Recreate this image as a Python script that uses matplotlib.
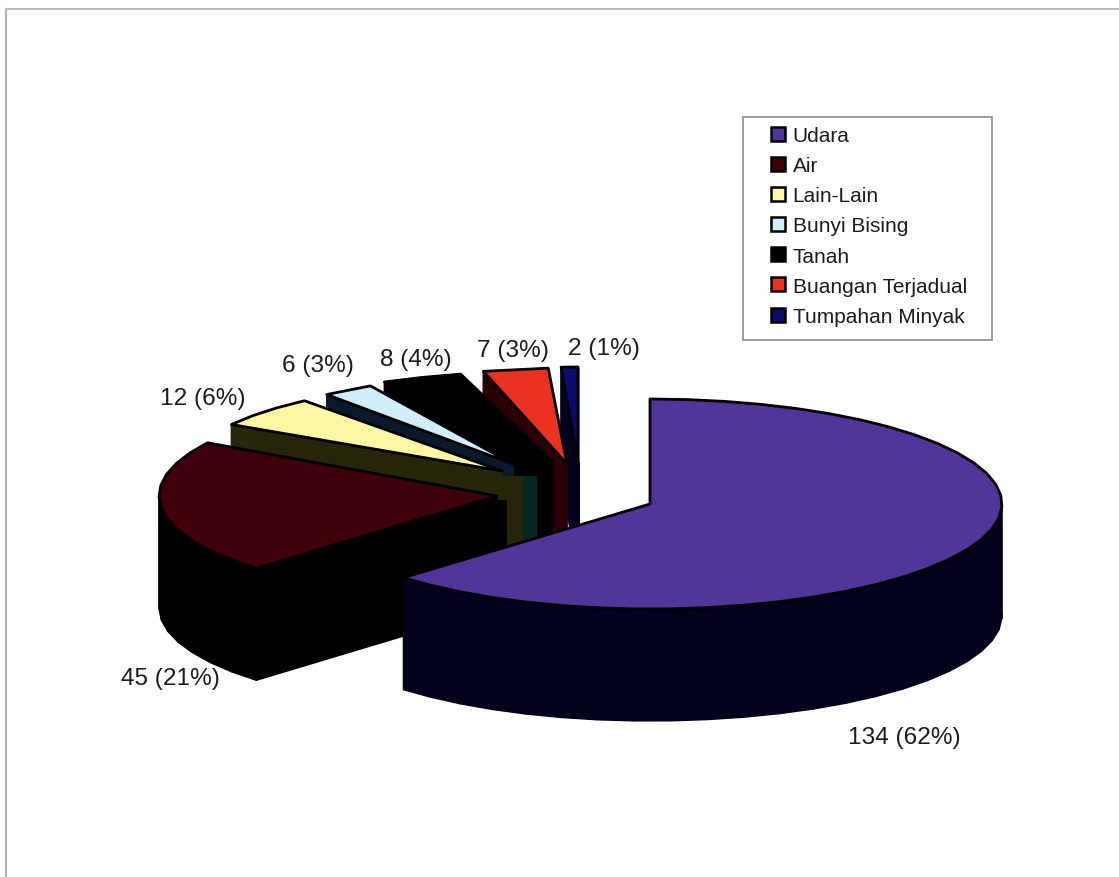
import numpy as np
import matplotlib
matplotlib.use('Agg')
import matplotlib.pyplot as plt
from matplotlib.patches import Polygon, Rectangle

plt.rcParams['font.family'] = ['Liberation Sans', 'DejaVu Sans']

# data
categories = ['Udara', 'Air', 'Lain-Lain', 'Bunyi Bising', 'Tanah',
              'Buangan Terjadual', 'Tumpahan Minyak']
values = [134, 45, 12, 6, 8, 7, 2]
percents = [62, 21, 6, 3, 4, 3, 1]

# styles
top_colors = ['#52359b', '#3f0009', '#fdf6a2', '#cfeefa', '#000000',
              '#ea3122', '#0b0b6e']
side_colors = ['#03021c', '#000000', '#26260a', '#0a1a2c', '#000000',
               '#2a0006', '#00001c']
hub_colors = ['#03021c', '#000000', '#26260a', '#06281f', '#000000',
              '#2a0006', '#00001c']

# layout of the exploded slices, in pixels of the picture
tip_x = [650, 497, 502, 513, 552, 567, 578]
tip_y = [505, 497, 472, 465, 462, 465, 463]
arc_shift = [3, 0, 0, 0, 0, 0, 0]
radius_x = [349, 338, 316, 298, 350, 320, 288]
radius_y = [105, 103, 90, 89, 90, 96, 95]
hub_width = [0, 10, 21, 24, 0, 0, 2]
hub_drop = [0, 4, 5, 12, 0, 0, 0]
depth = 112
label_x = [904, 170, 203, 318, 416, 513, 604]
label_y = [738, 679, 399, 366, 360, 351, 349]
label_size = 17.6


def slice_outline(i, start, end):
    '''Top face of a slice, as faceted arc plus tip'''
    n = max(2, int((end - start) / 6) + 1)
    a = np.radians(np.linspace(start, end, n))
    x = tip_x[i] + radius_x[i] * np.sin(a) + arc_shift[i] * np.abs(np.sin(a))
    y = tip_y[i] - radius_y[i] * np.cos(a)
    return np.column_stack([np.r_[tip_x[i], x], np.r_[tip_y[i], y]])


def draw_slice(ax, i, start, end):
    top = slice_outline(i, start, end)
    low = top + [0, depth]
    # walls first, the top face hides what is behind it
    for k in range(len(top)):
        k2 = (k + 1) % len(top)
        ax.add_patch(Polygon([top[k], top[k2], low[k2], low[k]],
                             fc=side_colors[i], ec=side_colors[i], lw=1))
    if hub_width[i] > 0:
        ax.add_patch(Rectangle((tip_x[i], tip_y[i] + hub_drop[i]),
                               hub_width[i], depth,
                               fc=hub_colors[i], ec='none'))
    ax.add_patch(Polygon(top, fc=top_colors[i], ec='black', lw=2,
                         joinstyle='round'))


fig = plt.figure(figsize=(11.19, 8.78), dpi=100)
ax = fig.add_axes([0, 0, 1, 1])
ax.set_xlim(0, 1119)
ax.set_ylim(878, 0)
ax.axis('off')

# page border of the scan
ax.plot([5.5, 5.5], [878, 10], color='#b4b4b4', lw=1.6)
ax.plot([5.5, 1119], [10, 10], color='#bcbcbc', lw=1.4)

edges = np.r_[0, np.cumsum(values)] / sum(values) * 360
for i in range(len(values) - 1, -1, -1):
    draw_slice(ax, i, edges[i], edges[i + 1])

for v, p, x, y in zip(values, percents, label_x, label_y):
    ax.text(x, y, f'{v} ({p}%)', fontsize=label_size, color='#1c1c1c',
            ha='center', va='center')

# legend
ax.add_patch(Rectangle((743, 118), 249, 223, fc='white', ec='#8c8c8c', lw=1.2))
handles = [Rectangle((0, 0), 1, 1, fc=c, ec='black', lw=1.8) for c in top_colors]
ax.legend(handles, categories, loc='upper left', frameon=False,
          bbox_to_anchor=(771, 127), bbox_transform=ax.transData,
          prop={'size': 15}, labelspacing=0.535, handlelength=0.66,
          handleheight=0.66, handletextpad=0.38, borderpad=0, borderaxespad=0,
          labelcolor='#1c1c1c')

fig.savefig('out.png', dpi=100)
